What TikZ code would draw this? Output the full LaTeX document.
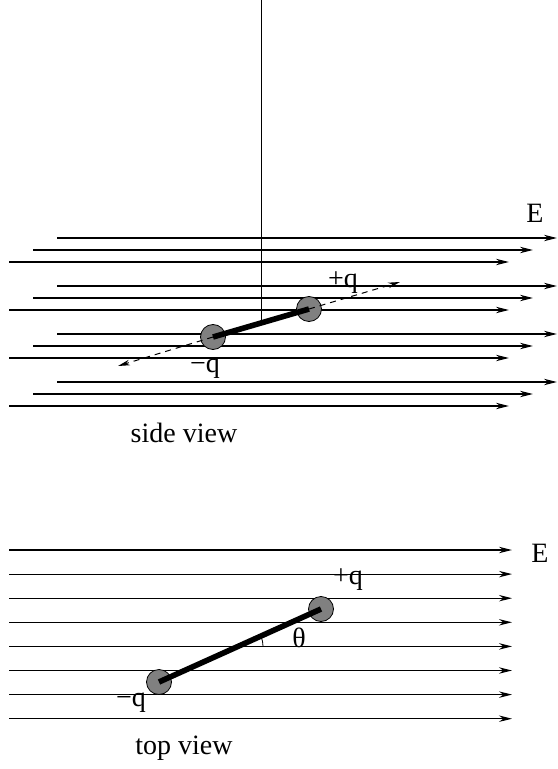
\documentclass[tikz,border=0pt]{standalone}
\usepackage{fontspec}
\setmainfont{Liberation Serif}
\usetikzlibrary{arrows.meta,calc}

\begin{document}
\begin{tikzpicture}[x=0.5pt, y=-0.5pt, line join=round, font=\fontsize{14}{16}\selectfont,
	field/.style={-{Stealth[length=6.5pt, width=3.2pt]}, line width=0.6pt},
	charge/.style={circle, draw, fill=gray, inner sep=0pt, minimum size=12.5pt, line width=0.4pt},
	rod/.style={line width=2.8pt},
	dipaxis/.style={-{Stealth[length=6pt, width=2.8pt]}, dash pattern=on 3pt off 2.5pt, line width=0.5pt}]
	\useasboundingbox (0, 0) rectangle (557, 769);

	% Đường sức điện trường (hình nhìn ngang)
	\foreach \k in {0, 1, 2, 3} {
		\foreach \i in {0, 1, 2} {
			\draw[field] (57 - 24*\i, 238 + 48*\k + 12*\i) -- (557 - 24*\i, 238 + 48*\k + 12*\i);
		}
	}
	\node (sE) at (535, 213) {E};

	% Lưỡng cực (hình nhìn ngang)
	\node[charge] (sneg) at (213, 337) {};
	\node[charge] (spos) at (309, 309) {};
	\coordinate (sL) at (118, 366);
	\coordinate (sR) at (400, 282);
	\draw[dipaxis] (sneg.center) -- (sL);
	\draw[dipaxis] (spos.center) -- (sR);
	\draw[rod] (sneg.center) -- (spos.center);
	\coordinate (hang) at ($(sneg.center)!0.51!(spos.center)$);
	\draw[line width=0.5pt] (hang |- 0, 0) -- (hang);
	\node (sposlab) at (343, 283) {+q};
	\node (sneglab) at (205, 369) {−q};
	\node (side) at (184, 433) {side view};

	% Đường sức điện trường (hình nhìn từ trên)
	\foreach \k in {0, ..., 7} {
		\draw[field] (9, 550 + 24.1*\k) -- (512, 550 + 24.1*\k);
	}
	\node (tE) at (540, 553) {E};

	% Lưỡng cực (hình nhìn từ trên)
	\node[charge] (tneg) at (159, 682) {};
	\node[charge] (tpos) at (321, 609) {};
	\draw[rod] (tneg.center) -- (tpos.center);
	\coordinate (tO) at (239, 646);
	\draw[line width=0.4pt] ($(tO) + (24, 0)$) arc[start angle=0, end angle=-24.3, radius=24];
	\node (theta) at (299, 638) {θ};
	\node (tposlab) at (348, 580) {+q};
	\node (tneglab) at (131, 703) {−q};
	\node (top) at (184, 748) {top view};
\end{tikzpicture}
\end{document}
